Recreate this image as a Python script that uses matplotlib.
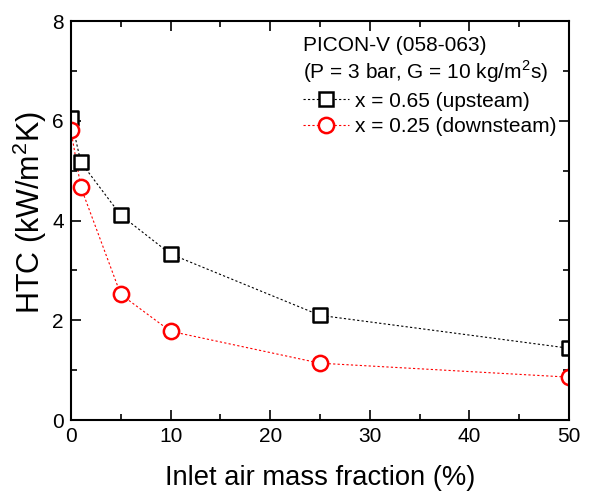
import matplotlib
matplotlib.use("Agg")
import matplotlib.pyplot as plt
from matplotlib.lines import Line2D
from matplotlib.ticker import MultipleLocator

plt.rcParams['font.family'] = ['Liberation Sans', 'DejaVu Sans']
plt.rcParams['mathtext.fontset'] = 'custom'
plt.rcParams['mathtext.rm'] = 'Liberation Sans'

x_air = [0, 1, 5, 10, 25, 50]
htc_up = [6.05, 5.17, 4.11, 3.33, 2.10, 1.44]
htc_down = [5.81, 4.67, 2.52, 1.78, 1.14, 0.86]

fig = plt.figure(figsize=(5.91, 4.93), dpi=100)
ax = fig.add_axes([0.120, 0.148, 0.843, 0.809])

dash = (0, (2, 2))
ax.plot(x_air, htc_up, linestyle=dash, color='black', lw=0.8, zorder=2)
ax.plot(x_air, htc_down, linestyle=dash, color='red', lw=0.8, zorder=2)
ax.scatter(x_air, htc_up, marker='s', s=100, facecolor='white', edgecolor='black',
           linewidths=1.8, zorder=3, clip_on=True)
ax.scatter(x_air, htc_down, marker='o', s=121, facecolor='white', edgecolor='red',
           linewidths=1.8, zorder=3, clip_on=True)

h1 = Line2D([], [], linestyle=dash, color='black', lw=0.8, marker='s', ms=10,
            mfc='white', mec='black', mew=1.8)
h2 = Line2D([], [], linestyle=dash, color='red', lw=0.8, marker='o', ms=11,
            mfc='white', mec='red', mew=1.8)

ax.set_xlim(0, 50)
ax.set_ylim(0, 8)
ax.xaxis.set_major_locator(MultipleLocator(10))
ax.xaxis.set_minor_locator(MultipleLocator(5))
ax.yaxis.set_major_locator(MultipleLocator(2))
ax.yaxis.set_minor_locator(MultipleLocator(1))
ax.tick_params(which='both', direction='in', top=True, right=True, labelsize=15, width=1.2)
ax.tick_params(which='major', length=7, pad=5)
ax.tick_params(which='minor', length=4)
for s in ax.spines.values():
    s.set_linewidth(1.5)
    s.set_zorder(4)

ax.set_xlabel('Inlet air mass fraction (%)', fontsize=19.7, labelpad=14)
ax.set_ylabel('HTC (kW/m$^2$K)', fontsize=22)
ax.yaxis.set_label_coords(-0.043, 0.52)

leg = ax.legend([h1, h2], ['x = 0.65 (upsteam)', 'x = 0.25 (downsteam)'],
                title='PICON-V (058-063)\n(P = 3 bar, G = 10 kg/m$^2$s)',
                loc='upper right', bbox_to_anchor=(1.0, 0.995), frameon=False,
                fontsize=15, title_fontsize=15, alignment='left',
                handlelength=2.2, handletextpad=0.3, labelspacing=0.3,
                borderaxespad=0.2)

fig.savefig('out.png', dpi=100)
